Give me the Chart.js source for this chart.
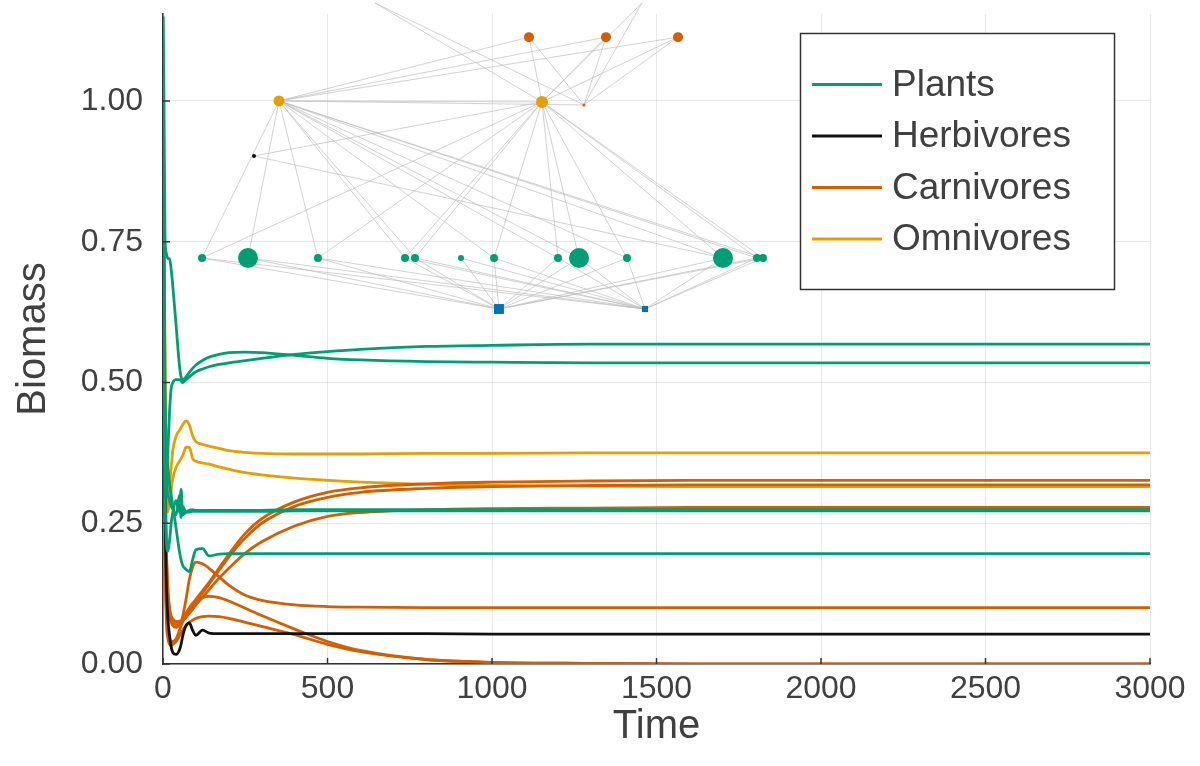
<!DOCTYPE html>
<html>
<head>
<meta charset="utf-8">
<script src="https://cdn.jsdelivr.net/npm/chart.js@4/dist/chart.umd.min.js"></script>
<style>
  html, body { margin: 0; padding: 0; background: #ffffff; }
  #wrap { width: 1200px; height: 766px; }
</style>
</head>
<body>
<div id="wrap"><canvas id="c" width="1200" height="766"></canvas></div>
<script>
// ---- simulation output: biomass of every species over time ----
const times = [0, 3, 6, 10, 15, 20, 25, 30, 40, 50, 55, 60, 70, 80, 90, 100, 120, 140, 170, 200,
               250, 300, 400, 500, 600, 800, 1000, 1300, 1600, 2000, 2500, 3000];

const plantA = [1.15, 1.00, 0.76, 0.73, 0.72, 0.72, 0.70, 0.67, 0.60, 0.53, 0.51, 0.505, 0.51, 0.518, 0.525, 0.531,
                0.539, 0.545, 0.55, 0.553, 0.554, 0.553, 0.548, 0.543, 0.540, 0.537, 0.536, 0.535, 0.535, 0.535, 0.535, 0.535];
const plantB = [0.95, 0.60, 0.35, 0.30, 0.38, 0.45, 0.49, 0.50, 0.505, 0.505, 0.503, 0.50, 0.505, 0.51, 0.515, 0.519,
                0.524, 0.528, 0.532, 0.535, 0.539, 0.543, 0.550, 0.555, 0.559, 0.564, 0.566, 0.568, 0.568, 0.568, 0.568, 0.568];
const plantC = [0.80, 0.50, 0.30, 0.22, 0.20, 0.22, 0.25, 0.27, 0.29, 0.27, 0.31, 0.265, 0.27, 0.273, 0.274, 0.273,
                0.273, 0.273, 0.273, 0.273, 0.273, 0.273, 0.274, 0.274, 0.274, 0.274, 0.274, 0.274, 0.274, 0.274, 0.274, 0.274];
const plantD = [0.60, 0.40, 0.35, 0.32, 0.30, 0.29, 0.28, 0.275, 0.265, 0.30, 0.26, 0.28, 0.27, 0.27, 0.271, 0.271,
                0.271, 0.271, 0.271, 0.271, 0.271, 0.271, 0.272, 0.272, 0.272, 0.272, 0.272, 0.272, 0.272, 0.272, 0.272, 0.272];
const plantE = [1.15, 0.80, 0.50, 0.40, 0.35, 0.32, 0.30, 0.28, 0.24, 0.20, 0.185, 0.175, 0.168, 0.164, 0.185, 0.203,
                0.205, 0.192, 0.195, 0.196, 0.196, 0.196, 0.196, 0.196, 0.196, 0.196, 0.196, 0.196, 0.196, 0.196, 0.196, 0.196];

const herbivoreA = [1.00, 0.60, 0.30, 0.15, 0.08, 0.05, 0.03, 0.02, 0.017, 0.025, 0.035, 0.05, 0.068, 0.073, 0.06, 0.051,
                    0.06, 0.055, 0.054, 0.054, 0.054, 0.054, 0.054, 0.054, 0.054, 0.054, 0.053, 0.053, 0.053, 0.053, 0.053, 0.053];

const carnivoreA = [1.00, 0.60, 0.35, 0.20, 0.13, 0.10, 0.085, 0.08, 0.075, 0.075, 0.076, 0.078, 0.085, 0.095, 0.105, 0.115,
                    0.13, 0.145, 0.17, 0.195, 0.232, 0.258, 0.288, 0.305, 0.313, 0.32, 0.323, 0.325, 0.326, 0.326, 0.326, 0.326];
const carnivoreB = [1.00, 0.55, 0.30, 0.17, 0.11, 0.085, 0.075, 0.072, 0.07, 0.072, 0.074, 0.077, 0.083, 0.092, 0.10, 0.11,
                    0.126, 0.142, 0.166, 0.19, 0.224, 0.25, 0.28, 0.296, 0.305, 0.312, 0.315, 0.317, 0.318, 0.318, 0.318, 0.318];
const carnivoreC = [1.00, 0.50, 0.28, 0.16, 0.11, 0.09, 0.08, 0.077, 0.075, 0.076, 0.077, 0.078, 0.083, 0.09, 0.097, 0.105,
                    0.118, 0.132, 0.152, 0.17, 0.197, 0.217, 0.245, 0.262, 0.269, 0.274, 0.276, 0.277, 0.278, 0.278, 0.278, 0.278];
const carnivoreD = [1.00, 0.65, 0.40, 0.22, 0.13, 0.09, 0.075, 0.068, 0.065, 0.07, 0.075, 0.085, 0.115, 0.15, 0.172, 0.181,
                    0.178, 0.17, 0.155, 0.14, 0.122, 0.113, 0.105, 0.102, 0.101, 0.100, 0.100, 0.100, 0.100, 0.100, 0.100, 0.100];
const carnivoreE = [1.00, 0.50, 0.25, 0.10, 0.06, 0.045, 0.04, 0.04, 0.045, 0.06, 0.068, 0.075, 0.09, 0.10, 0.108, 0.113,
                    0.118, 0.12, 0.118, 0.112, 0.099, 0.086, 0.062, 0.04, 0.024, 0.008, 0.003, 0.001, 0, 0, 0, 0];
const carnivoreF = [1.00, 0.45, 0.20, 0.08, 0.045, 0.035, 0.033, 0.035, 0.04, 0.05, 0.055, 0.06, 0.068, 0.074, 0.078, 0.081,
                    0.084, 0.085, 0.084, 0.081, 0.074, 0.067, 0.052, 0.035, 0.022, 0.008, 0.003, 0.001, 0, 0, 0, 0];

const omnivoreA = [1.00, 0.80, 0.55, 0.33, 0.30, 0.32, 0.35, 0.38, 0.405, 0.415, 0.42, 0.425, 0.432, 0.425, 0.405, 0.395,
                   0.39, 0.387, 0.383, 0.379, 0.376, 0.374, 0.373, 0.373, 0.373, 0.374, 0.374, 0.375, 0.375, 0.375, 0.375, 0.375];
const omnivoreB = [1.00, 0.75, 0.50, 0.30, 0.27, 0.29, 0.31, 0.33, 0.35, 0.36, 0.365, 0.37, 0.385, 0.385, 0.365, 0.36,
                   0.357, 0.355, 0.35, 0.346, 0.34, 0.336, 0.33, 0.326, 0.323, 0.319, 0.317, 0.316, 0.315, 0.315, 0.315, 0.315];

const groupNames = ['Plants', 'Herbivores', 'Carnivores', 'Omnivores'];
const groupSeries = {
  Plants: [plantA, plantB, plantC, plantD, plantE],
  Herbivores: [herbivoreA],
  Carnivores: [carnivoreA, carnivoreB, carnivoreC, carnivoreD, carnivoreE, carnivoreF],
  Omnivores: [omnivoreA, omnivoreB]
};

const xTickValues = [0, 500, 1000, 1500, 2000, 2500, 3000];
const yTickValues = [0, 0.25, 0.5, 0.75, 1.0];

// ---- food web: nodes (layout column, trophic height, relative mass) and feeding links ----
const nodeNames = ['N1', 'N2',
  'P1', 'P2', 'P3', 'P4', 'P5', 'P6', 'P7', 'P8', 'P9', 'P10', 'P11', 'P12', 'P13',
  'H1', 'O1', 'O2', 'C1', 'C2', 'C3', 'C4', 'C5', 'C6'];
const nodeGroup = ['Nutrients', 'Nutrients',
  'Plants', 'Plants', 'Plants', 'Plants', 'Plants', 'Plants', 'Plants', 'Plants', 'Plants', 'Plants', 'Plants', 'Plants', 'Plants',
  'Herbivores', 'Omnivores', 'Omnivores', 'Carnivores', 'Carnivores', 'Carnivores', 'Carnivores', 'Carnivores', 'Carnivores'];
const nodeColumn = [0.3404, 0.4883,
  0.0395, 0.0861, 0.1570, 0.2452, 0.2553, 0.3019, 0.3354, 0.4002, 0.4215, 0.4701, 0.5674, 0.6018, 0.6079,
  0.0922, 0.1175, 0.3840, 0.2148, 0.4853, 0.3708, 0.4488, 0.5218, 0.4265];
const nodeLevel = [0, 0,
  1, 1, 1, 1, 1, 1, 1, 1, 1, 1, 1, 1, 1,
  3.0, 4.08, 4.06, 6.0, 6.0, 5.33, 5.33, 5.33, 4.0];
const nodeMass = [0.49, 0.185,
  0.16, 1.0, 0.16, 0.16, 0.16, 0.09, 0.16, 0.16, 1.0, 0.16, 1.0, 0.16, 0.16,
  0.04, 0.30, 0.36, 0.0625, 0.04, 0.25, 0.25, 0.25, 0.0225];

const plantNames = ['P1', 'P2', 'P3', 'P4', 'P5', 'P6', 'P7', 'P8', 'P9', 'P10', 'P11', 'P12', 'P13'];
const feedingLinks = [
  ['O1', 'P1'], ['O1', 'P2'], ['O1', 'P3'], ['O1', 'P4'], ['O1', 'P5'], ['O1', 'P7'], ['O1', 'P8'],
  ['O1', 'P9'], ['O1', 'P10'], ['O1', 'P11'], ['O1', 'P12'], ['O1', 'P13'], ['O1', 'O2'], ['O1', 'C6'],
  ['O2', 'P1'], ['O2', 'P3'], ['O2', 'P4'], ['O2', 'P5'], ['O2', 'P7'], ['O2', 'P8'], ['O2', 'P9'],
  ['O2', 'P10'], ['O2', 'P11'], ['O2', 'P12'], ['O2', 'P13'], ['O2', 'H1'],
  ['H1', 'P11'],
  ['C1', 'O2'], ['C1', 'C6'], ['C2', 'O2'], ['C2', 'C6'],
  ['C3', 'O1'], ['C3', 'O2'], ['C3', 'C6'],
  ['C4', 'O1'], ['C4', 'O2'], ['C4', 'C6'],
  ['C5', 'O1'], ['C5', 'O2'], ['C5', 'C6']
];
// every plant takes up both nutrients
plantNames.forEach(p => { feedingLinks.push([p, 'N1']); feedingLinks.push([p, 'N2']); });

// ---- styling ----
const groupColor = {
  Plants: '#009E73',
  Herbivores: '#111111',
  Carnivores: '#D55E00',
  Omnivores: '#E69F00',
  Nutrients: '#0072B2'
};
const FONT = "'Liberation Sans', Arial, Helvetica, sans-serif";
const TEXT = '#404040';
const AXIS = '#333333';

const datasets = [];
groupNames.forEach(g => {
  groupSeries[g].forEach(values => {
    datasets.push({
      type: 'line',
      label: g,
      data: values.map((v, i) => ({ x: times[i], y: v })),
      borderColor: groupColor[g],
      borderWidth: 2.8,
      pointRadius: 0,
      cubicInterpolationMode: 'monotone',
      xAxisID: 'x',
      yAxisID: 'y',
      order: 3
    });
  });
});

const nodeIndex = {};
nodeNames.forEach((n, i) => { nodeIndex[n] = i; });
const linkPoints = [];
feedingLinks.forEach(([a, b]) => {
  const i = nodeIndex[a], j = nodeIndex[b];
  linkPoints.push({ x: nodeColumn[i], y: nodeLevel[i] });
  linkPoints.push({ x: nodeColumn[j], y: nodeLevel[j] });
  linkPoints.push({ x: nodeColumn[j], y: null });
});
datasets.push({
  type: 'line',
  label: 'links',
  data: linkPoints,
  borderColor: 'rgba(190,190,190,0.7)',
  borderWidth: 1,
  pointRadius: 0,
  spanGaps: false,
  tension: 0,
  xAxisID: 'x2',
  yAxisID: 'y2',
  clip: false,
  order: 2
});
datasets.push({
  type: 'scatter',
  label: 'species',
  data: nodeNames.map((n, i) => ({ x: nodeColumn[i], y: nodeLevel[i] })),
  pointStyle: nodeGroup.map(g => g === 'Nutrients' ? 'rect' : 'circle'),
  pointRadius: nodeMass.map(m => 10 * Math.sqrt(m)),
  backgroundColor: nodeGroup.map(g => groupColor[g]),
  borderWidth: 0,
  xAxisID: 'x2',
  yAxisID: 'y2',
  clip: false,
  order: 1
});

// inward tick marks on both axes
const innerTicks = {
  id: 'innerTicks',
  afterDatasetsDraw(chart) {
    const { ctx, chartArea: a, scales: { x, y } } = chart;
    ctx.save();
    ctx.strokeStyle = AXIS;
    ctx.lineWidth = 1.5;
    ctx.beginPath();
    x.ticks.forEach(t => {
      const px = x.getPixelForValue(t.value);
      ctx.moveTo(px, a.bottom); ctx.lineTo(px, a.bottom - 6);
    });
    y.ticks.forEach(t => {
      const py = y.getPixelForValue(t.value);
      ctx.moveTo(a.left, py); ctx.lineTo(a.left + 7, py);
    });
    ctx.stroke();
    ctx.restore();
  }
};

// framed legend in the upper right of the plot
const framedLegend = {
  id: 'framedLegend',
  afterDraw(chart) {
    const ctx = chart.ctx;
    const bx = 800.5, by = 33.5, bw = 314, bh = 256;
    ctx.save();
    ctx.fillStyle = '#ffffff';
    ctx.fillRect(bx, by, bw, bh);
    ctx.strokeStyle = AXIS;
    ctx.lineWidth = 1.5;
    ctx.strokeRect(bx, by, bw, bh);
    ctx.font = '37px ' + FONT;
    ctx.textBaseline = 'middle';
    ctx.textAlign = 'left';
    groupNames.forEach((g, k) => {
      const yy = 84.5 + k * 51.5;
      ctx.strokeStyle = groupColor[g];
      ctx.lineWidth = 3;
      ctx.beginPath();
      ctx.moveTo(812, yy); ctx.lineTo(882, yy);
      ctx.stroke();
      ctx.fillStyle = TEXT;
      ctx.fillText(g, 892, yy + 1);
    });
    ctx.restore();
  }
};

new Chart(document.getElementById('c'), {
  type: 'line',
  data: { datasets },
  options: {
    responsive: false,
    animation: false,
    devicePixelRatio: 1,
    layout: { padding: { left: 0, top: 14, right: 50, bottom: 0 } },
    plugins: { legend: { display: false }, tooltip: { enabled: false } },
    scales: {
      x: {
        type: 'linear',
        min: 0, max: 3000,
        afterFit: s => { s.height = 102; s.paddingLeft = 0; s.paddingRight = 0; },
        afterBuildTicks: s => { s.ticks = xTickValues.map(v => ({ value: v })); },
        ticks: { font: { size: 32, family: FONT }, color: TEXT, padding: 6, maxRotation: 0, autoSkip: false,
                 callback: v => String(v) },
        grid: { color: 'rgba(0,0,0,0.09)', lineWidth: 1, drawTicks: false },
        border: { display: true, color: AXIS, width: 1.5 },
        title: { display: true, text: 'Time', font: { size: 40, family: FONT }, color: TEXT, padding: { top: 0, bottom: 15 } }
      },
      y: {
        type: 'linear',
        min: 0, max: 1.1545,
        afterFit: s => { s.width = 163; s.paddingTop = 0; s.paddingBottom = 0; },
        afterBuildTicks: s => { s.ticks = yTickValues.map(v => ({ value: v })); },
        ticks: { font: { size: 32, family: FONT }, color: TEXT, padding: 20, includeBounds: false,
                 callback: v => Number(v).toFixed(2) },
        grid: { color: 'rgba(0,0,0,0.09)', lineWidth: 1, drawTicks: false },
        border: { display: true, color: AXIS, width: 1.5 },
        title: { display: true, text: 'Biomass', font: { size: 40, family: FONT }, color: TEXT, padding: { top: 10, bottom: 0 } }
      },
      x2: { type: 'linear', display: false, min: 0, max: 1 },
      y2: { type: 'linear', display: false, min: -6.96, max: 5.784 }
    }
  },
  plugins: [innerTicks, framedLegend]
});
</script>
</body>
</html>
